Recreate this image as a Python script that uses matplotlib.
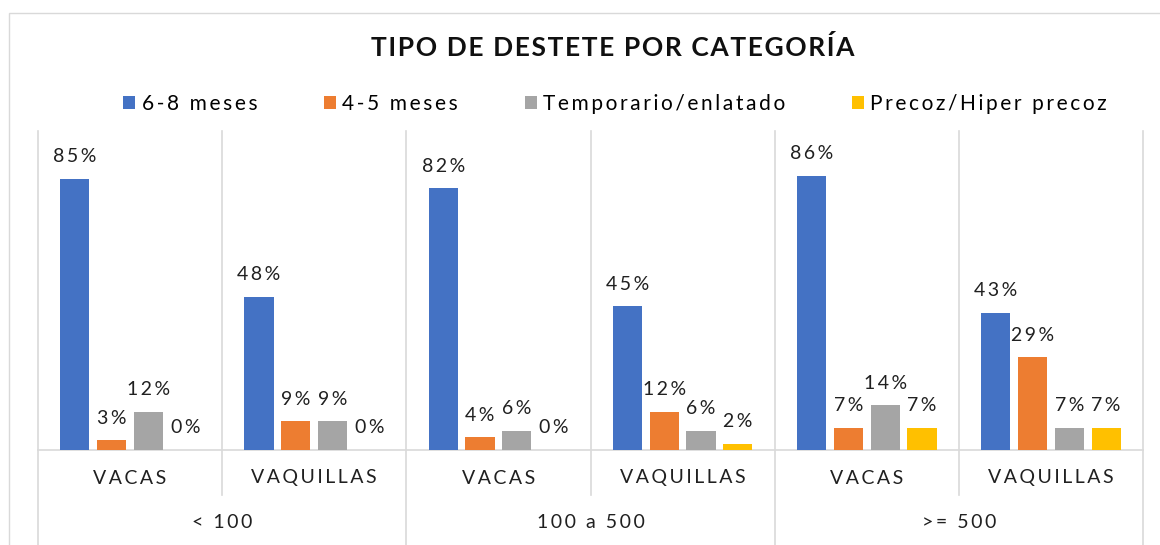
import numpy as np
import matplotlib
matplotlib.use("Agg")
import matplotlib.pyplot as plt
from matplotlib.patches import Rectangle
from matplotlib.transforms import blended_transform_factory

plt.rcParams['font.family'] = ['Lato', 'DejaVu Sans']

# ---------------------------------------------------------------------
# Data
groups = ["< 100", "100 a 500", ">= 500"]
subcats = ["VACAS", "VAQUILLAS"]
series = ["6-8 meses", "4-5 meses", "Temporario/enlatado", "Precoz/Hiper precoz"]
colors = ["#4472C4", "#ED7D31", "#A5A5A5", "#FFC000"]

# one value per (group, subcategory), in order
v_68 = [85, 48, 82, 45, 86, 43]
v_45 = [3, 9, 4, 12, 7, 29]
v_temp = [12, 9, 6, 6, 14, 7]
v_precoz = [0, 0, 0, 2, 7, 7]
values = [v_68, v_45, v_temp, v_precoz]


def spaced(s, sep="\u2009"):
    # Excel text here uses expanded character spacing
    return sep.join(s)


W, H = 1160, 545
fig = plt.figure(figsize=(W / 100, H / 100), dpi=100)

# outer chart border (Excel chart area)
fig.patches.append(Rectangle((9 / W, -0.1), 1.2, 1 - 13 / H + 0.1,
                             transform=fig.transFigure, fill=False,
                             edgecolor="#d9d9d9", lw=1))

x0, x1, ybase, ytop = 38, 1143, 450, 131
ax = fig.add_axes([x0 / W, 1 - ybase / H, (x1 - x0) / W, (ybase - ytop) / H])

n = len(v_68)
centers = np.arange(n) + 0.5
bw, step = 0.158, 0.2
for j, (vals, col, name) in enumerate(zip(values, colors, series)):
    xs = centers + (j - 1.5) * step
    ax.bar(xs, vals, width=bw, color=col, label=spaced(name), zorder=3)
    for x, v in zip(xs, vals):
        ax.annotate(spaced(f"{v}%"), (x, v), xytext=(0, 16),
                    textcoords="offset points", ha="center", va="center",
                    fontsize=14, color="#202020")

ax.set_xlim(0, n)
ax.set_ylim(0, 100)
ax.set_yticks([])
ax.set_xticks([])
for s in ["top", "left", "right"]:
    ax.spines[s].set_visible(False)
ax.spines["bottom"].set_color("#d9d9d9")
ax.spines["bottom"].set_linewidth(1.2)

# separators and multi-level category labels
tr = blended_transform_factory(ax.transData, ax.transAxes)
ph = ybase - ytop
for k in range(n + 1):
    bottom = -(H - ybase) / ph if k % 2 == 0 else -45 / ph
    ax.plot([k, k], [1, bottom], color="#d9d9d9", lw=1.2, transform=tr,
            clip_on=False, zorder=1)
for i in range(n):
    ax.text(i + 0.5, -28 / ph, spaced(subcats[i % 2]), transform=tr,
            ha="center", va="center", fontsize=14, color="#202020")
for g, name in enumerate(groups):
    ax.text(2 * g + 1, -73 / ph, spaced(name), transform=tr, ha="center",
            va="center", fontsize=14, color="#202020")

fig.text(613 / W, 1 - 48 / H, spaced("TIPO DE DESTETE POR CATEGORÍA", "\u200a"),
         ha="center", va="center", fontsize=19, fontweight="bold",
         color="#101010")

fig.legend(loc="center", bbox_to_anchor=(615 / W, 1 - 104 / H), ncol=4,
           frameon=False, fontsize=15, handlelength=0.58, handleheight=0.58,
           handletextpad=0.3, columnspacing=3.2)

fig.savefig("out.png", dpi=100)
